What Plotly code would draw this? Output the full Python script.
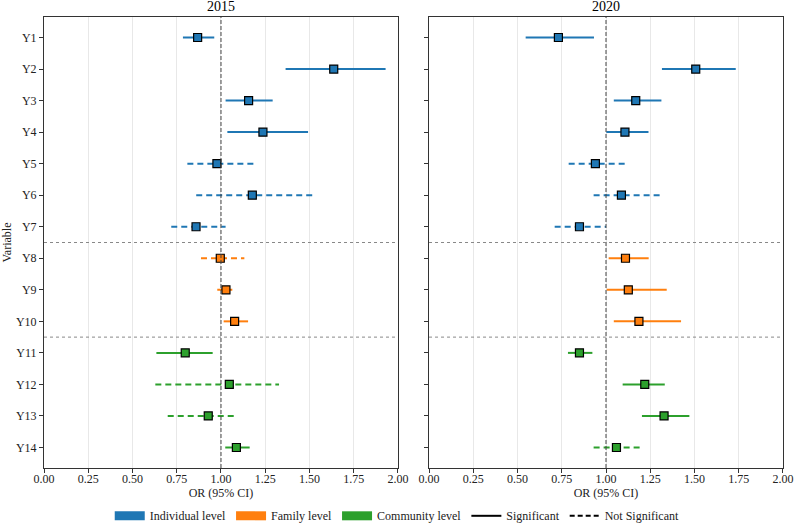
import plotly.graph_objects as go
from plotly.subplots import make_subplots

variables = ["Y1", "Y2", "Y3", "Y4", "Y5", "Y6", "Y7", "Y8", "Y9", "Y10", "Y11", "Y12", "Y13", "Y14"]
levels = ["Individual level"] * 7 + ["Family level"] * 3 + ["Community level"] * 4

or_2015 = [0.868, 1.637, 1.156, 1.237, 0.977, 1.177, 0.859, 0.996, 1.028, 1.077, 0.798, 1.047, 0.928, 1.087]
lo_2015 = [0.785, 1.365, 1.026, 1.036, 0.810, 0.860, 0.719, 0.887, 0.979, 1.015, 0.635, 0.629, 0.699, 1.024]
hi_2015 = [0.962, 1.930, 1.292, 1.492, 1.202, 1.527, 1.026, 1.132, 1.064, 1.153, 0.953, 1.328, 1.090, 1.162]
sig_2015 = [True, True, True, True, False, False, False, False, False, True, True, False, False, True]

or_2020 = [0.731, 1.507, 1.168, 1.107, 0.940, 1.087, 0.850, 1.110, 1.126, 1.186, 0.850, 1.219, 1.328, 1.059]
lo_2020 = [0.546, 1.316, 1.044, 1.002, 0.789, 0.930, 0.710, 1.015, 1.004, 1.044, 0.785, 1.094, 1.203, 0.930]
hi_2020 = [0.932, 1.733, 1.313, 1.240, 1.110, 1.309, 1.000, 1.241, 1.343, 1.424, 0.923, 1.332, 1.471, 1.198]
sig_2020 = [True, True, True, True, False, False, False, True, True, True, True, True, True, False]

level_colors = {"Individual level": "#1f77b4", "Family level": "#ff7f0e", "Community level": "#2ca02c"}
x_ticks = [0.0, 0.25, 0.5, 0.75, 1.0, 1.25, 1.5, 1.75, 2.0]
FONT = "Liberation Serif"

fig = make_subplots(rows=1, cols=2, subplot_titles=["2015", "2020"], horizontal_spacing=0.042)

panels = [(or_2015, lo_2015, hi_2015, sig_2015), (or_2020, lo_2020, hi_2020, sig_2020)]
for col, (orv, lo, hi, sig) in enumerate(panels, start=1):
    # CI lines grouped by level and significance
    for lev, colr in level_colors.items():
        for s in (True, False):
            xs, ys = [], []
            for i, v in enumerate(variables):
                if levels[i] == lev and sig[i] == s:
                    xs += [lo[i], hi[i], None]
                    ys += [v, v, None]
            if xs:
                fig.add_trace(go.Scatter(x=xs, y=ys, mode="lines",
                                         line=dict(color=colr, width=2, dash="solid" if s else "6px,4px"),
                                         showlegend=False, hoverinfo="skip"), row=1, col=col)
    # point estimates
    for lev, colr in level_colors.items():
        idx = [i for i in range(len(variables)) if levels[i] == lev]
        fig.add_trace(go.Scatter(x=[orv[i] for i in idx], y=[variables[i] for i in idx], mode="markers",
                                 marker=dict(symbol="square", size=8, color=colr,
                                             line=dict(color="black", width=1.2)),
                                 showlegend=False), row=1, col=col)

# legend entries
for lev, colr in level_colors.items():
    fig.add_trace(go.Scatter(x=[None], y=[None], mode="lines", name=lev,
                             line=dict(color=colr, width=9)), row=1, col=1)
fig.add_trace(go.Scatter(x=[None], y=[None], mode="lines", name="Significant",
                         line=dict(color="black", width=2)), row=1, col=1)
fig.add_trace(go.Scatter(x=[None], y=[None], mode="lines", name="Not Significant",
                         line=dict(color="black", width=2, dash="5px,3px")), row=1, col=1)

for col in (1, 2):
    fig.update_xaxes(range=[0, 2], tickvals=x_ticks, ticktext=[f"{t:.2f}" for t in x_ticks],
                     showgrid=True, gridcolor="#e8e8e8", gridwidth=1,
                     showline=True, linecolor="#333", linewidth=1, mirror=True,
                     ticks="outside", ticklen=4, tickcolor="#333", zeroline=False,
                     tickfont=dict(size=12), ticklabelstandoff=-4,
                     title=dict(text="OR (95% CI)", standoff=0, font=dict(size=12)),
                     row=1, col=col)
    fig.update_yaxes(type="category", categoryarray=variables, range=[13.65, -0.65],
                     showgrid=False, showline=True, linecolor="#333", linewidth=1, mirror=True,
                     ticks="outside", ticklen=4, tickcolor="#333", zeroline=False,
                     tickfont=dict(size=12),
                     showticklabels=(col == 1), row=1, col=col)
    fig.add_vline(x=1.0, line=dict(color="#444", width=1, dash="4px,2px"), row=1, col=col)
    for yb in (6.5, 9.5):
        fig.add_hline(y=yb, line=dict(color="#888", width=1, dash="dot"), row=1, col=col)

fig.update_yaxes(title=dict(text="Variable", standoff=2, font=dict(size=12)), row=1, col=1)

for ann in fig.layout.annotations:
    ann.font = dict(family=FONT, size=14, color="black")
    ann.yshift = 1

fig.update_layout(
    width=794, height=524,
    margin=dict(l=44, r=11, t=17, b=56, autoexpand=False),
    plot_bgcolor="white", paper_bgcolor="white",
    font=dict(family=FONT, size=12, color="#222"),
    legend=dict(orientation="h", x=0.478, xanchor="center", y=-0.106, yanchor="middle",
                font=dict(size=12), itemwidth=30, tracegroupgap=0),
)

fig.write_html("out.html")
